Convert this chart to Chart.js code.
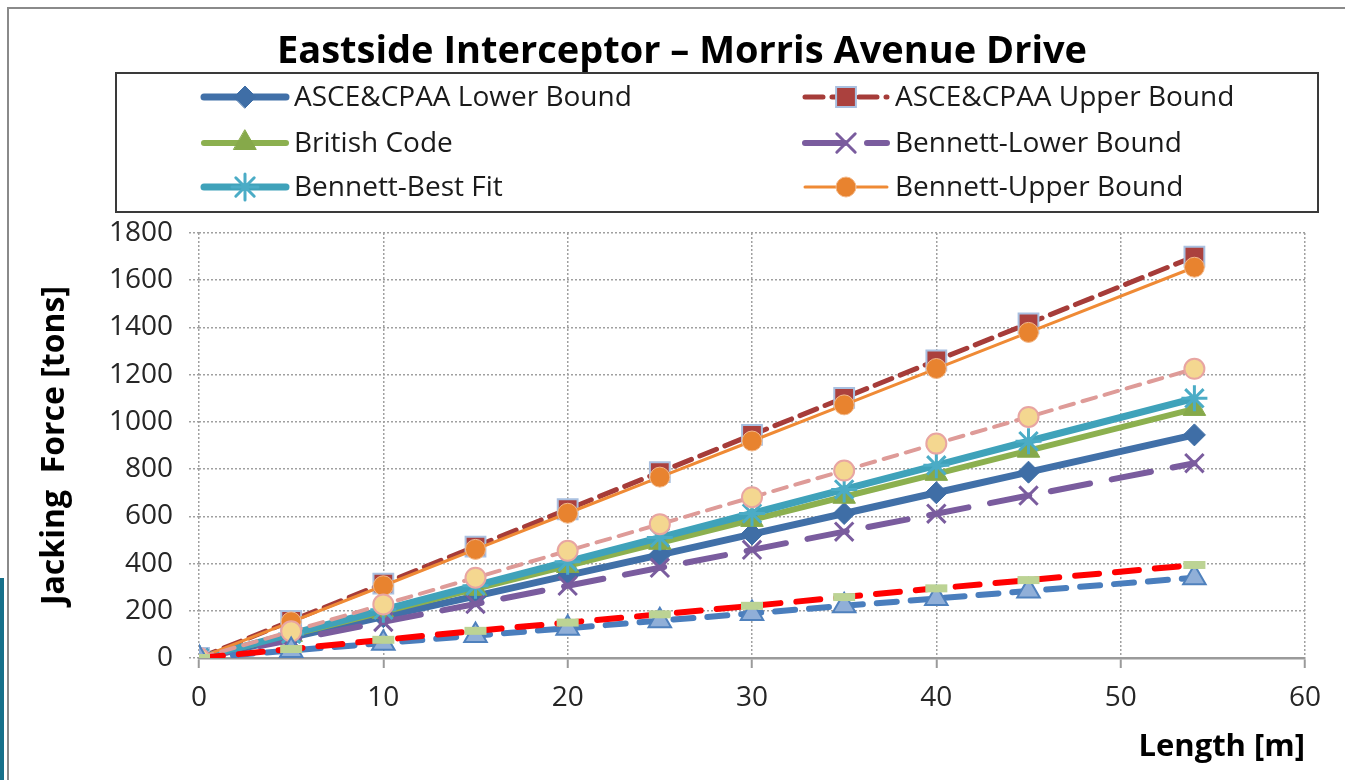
<!DOCTYPE html>
<html>
<head>
<meta charset="utf-8">
<script src="https://cdn.jsdelivr.net/npm/chart.js@4.4.1/dist/chart.umd.min.js"></script>
<style>
  html, body { margin: 0; padding: 0; background: #fff; }
  #wrap { position: relative; width: 1345px; height: 780px; overflow: hidden; }
  #frame { position: absolute; left: 7px; top: 7px; width: 1400px; height: 820px;
           border-left: 2px solid #8a8a8a; border-top: 2px solid #8a8a8a; }
  #edge { position: absolute; left: 0px; top: 578px; width: 4px; height: 202px; background: #16708a; }
  canvas { position: absolute; left: 0; top: 0; }
</style>
</head>
<body>
<div id="wrap">
  <div id="frame"></div>
  <div id="edge"></div>
  <canvas id="chart" width="1345" height="780"></canvas>
</div>
<script>
// values (tons vs length in m)
const lengths = [0, 5, 10, 15, 20, 25, 30, 35, 40, 45, 54];
const asceLower = [0, 87, 175, 262, 350, 437, 525, 612, 700, 787, 945];
const asceUpper = [0, 157, 315, 472, 630, 787, 945, 1102, 1260, 1417, 1700];
const british = [0, 98, 195, 293, 390, 488, 585, 683, 780, 878, 1055];
const bennettLower = [0, 76, 153, 229, 306, 382, 458, 535, 611, 688, 825];
const bennettBest = [0, 102, 204, 306, 408, 510, 612, 714, 816, 918, 1100];
const bennettUpper = [0, 153, 306, 460, 613, 766, 919, 1072, 1226, 1379, 1655];
const extraPink = [0, 113, 227, 340, 454, 567, 681, 794, 908, 1021, 1225];
const extraRed = [0, 38, 77, 115, 150, 185, 221, 258, 295, 330, 394];
const extraBlue = [0, 32, 63, 95, 126, 158, 189, 221, 252, 284, 340];

const yTicks = [0, 200, 400, 600, 800, 1000, 1200, 1400, 1600, 1800];
const xTicks = [0, 10, 20, 30, 40, 50, 60];

const FONT = '"Open Sans", "Liberation Sans", sans-serif';

function pts(vals) {
  return vals.map((v, i) => ({ x: lengths[i], y: v }));
}

// z: draw weight (higher = drawn earlier, i.e. underneath)
const series = [
  { label: 'ASCE&CPAA Lower Bound', data: asceLower, color: '#4170a8', width: 7, dash: [],
    style: 'rectRot', r: 11, fill: '#3f6ea6', edge: '#3f6ea6', ew: 1, z: 9 },
  { label: 'ASCE&CPAA Upper Bound', data: asceUpper, color: '#a63c39', width: 5, dash: [18, 9],
    style: 'rect', r: 14, fill: '#ab413e', edge: '#a9c0e0', ew: 2, z: 8 },
  { label: 'British Code', data: british, color: '#8cb04f', width: 6, dash: [],
    style: 'triangle', r: 13, fill: '#86a94a', edge: '#86a94a', ew: 1, z: 7 },
  { label: 'Bennett-Lower Bound', data: bennettLower, color: '#7a5c9e', width: 6, dash: [40, 22],
    style: 'crossRot', r: 13, fill: '#7a5c9e', edge: '#7a5c9e', ew: 3, z: 6 },
  { label: 'Bennett-Best Fit', data: bennettBest, color: '#3fa2ba', width: 7, dash: [],
    style: 'star', r: 13, fill: '#4bacc6', edge: '#4bacc6', ew: 3, z: 5 },
  { label: 'Bennett-Upper Bound', data: bennettUpper, color: '#ef8a35', width: 3, dash: [],
    style: 'circle', r: 10, fill: '#e8832f', edge: '#f2b98c', ew: 1, z: 4 },
  { label: '', data: extraPink, color: '#de9b98', width: 4, dash: [14, 9],
    style: 'circle', r: 10, fill: '#f4d790', edge: '#e8a5a2', ew: 2, z: 3 },
  { label: '', data: extraRed, color: '#ff0000', width: 6, dash: [24, 16],
    style: 'line', r: 11, fill: '#bcd394', edge: '#bcd394', ew: 8, z: 1 },
  { label: '', data: extraBlue, color: '#4a7ebd', width: 6, dash: [20, 14],
    style: 'triangle', r: 13, fill: '#90afd8', edge: '#4f81bd', ew: 2, z: 2 }
];

const datasets = series.map(s => ({
  label: s.label,
  data: pts(s.data),
  borderColor: s.color,
  borderWidth: s.width,
  borderDash: s.dash,
  borderCapStyle: 'round',
  pointStyle: s.style,
  pointRadius: s.r,
  pointBackgroundColor: s.fill,
  pointBorderColor: s.edge,
  pointBorderWidth: s.ew,
  tension: 0,
  fill: false,
  order: s.z
}));

// legend drawn as in the spreadsheet: line sample + marker, two columns
const boxLegend = {
  id: 'boxLegend',
  afterDraw(chart) {
    const ctx = chart.ctx;
    ctx.save();
    ctx.strokeStyle = '#3a3a3a';
    ctx.lineWidth = 2;
    ctx.strokeRect(116, 73, 1202, 139);
    const rows = [97, 143, 187];
    const cols = [200, 801];
    series.slice(0, 6).forEach((s, i) => {
      const x = cols[i % 2];
      const y = rows[Math.floor(i / 2)];
      ctx.save();
      ctx.strokeStyle = s.color;
      ctx.lineWidth = s.width;
      ctx.lineCap = 'round';
      ctx.setLineDash(s.dash);
      ctx.beginPath();
      ctx.moveTo(x + 4, y);
      ctx.lineTo(x + 86, y);
      ctx.stroke();
      ctx.setLineDash([]);
      ctx.fillStyle = s.fill;
      ctx.strokeStyle = s.edge;
      ctx.lineWidth = s.ew;
      Chart.helpers.drawPoint(ctx, { pointStyle: s.style, radius: s.r, rotation: 0, borderWidth: s.ew }, x + 45, y);
      ctx.restore();
      ctx.fillStyle = '#1a1a1a';
      ctx.font = '28px ' + FONT;
      ctx.textBaseline = 'middle';
      ctx.fillText(s.label, x + 94, y + 1);
    });
    ctx.fillStyle = '#000';
    ctx.font = 'bold 38px ' + FONT;
    ctx.textAlign = 'center';
    ctx.textBaseline = 'middle';
    ctx.fillText('Eastside Interceptor \u2013 Morris Avenue Drive', 682, 52);
    ctx.restore();
  }
};

new Chart(document.getElementById('chart'), {
  type: 'line',
  data: { datasets },
  plugins: [boxLegend],
  options: {
    responsive: false,
    animation: false,
    layout: { padding: { left: 36, top: 233, right: 40, bottom: 6 } },
    plugins: { legend: { display: false }, tooltip: { enabled: false }, title: { display: false } },
    scales: {
      x: {
        type: 'linear', min: 0, max: 60,
        afterFit: s => { s.height = 116; },
        afterBuildTicks: s => { s.ticks = xTicks.map(v => ({ value: v })); },
        grid: { color: '#a0a0a0', lineWidth: 1.5, tickLength: 10, tickColor: '#9a9a9a', tickWidth: 2 },
        border: { display: true, color: '#9a9a9a', width: 2.5, dash: [2, 2] },
        ticks: { font: { family: FONT, size: 28 }, color: '#262626', padding: 13, maxRotation: 0,
                 callback: v => String(v) },
        title: { display: true, text: 'Length [m]', align: 'end', color: '#000',
                 font: { family: FONT, size: 31, weight: 'bold' }, padding: { top: 8, bottom: 8 } }
      },
      y: {
        min: 0, max: 1800,
        afterFit: s => { s.width = 163; },
        afterBuildTicks: s => { s.ticks = yTicks.map(v => ({ value: v })); },
        grid: { color: '#a0a0a0', lineWidth: 1.5, tickLength: 10, tickColor: '#a0a0a0', tickBorderDash: [2, 2] },
        border: { display: false, dash: [2, 2] },
        ticks: { font: { family: FONT, size: 28 }, color: '#262626', padding: 16,
                 callback: v => String(v) },
        title: { display: true, text: 'Jacking  Force [tons]', color: '#000',
                 font: { family: FONT, size: 32, weight: 'bold' }, padding: { top: 0, bottom: 0 } }
      }
    }
  }
});
</script>
</body>
</html>
